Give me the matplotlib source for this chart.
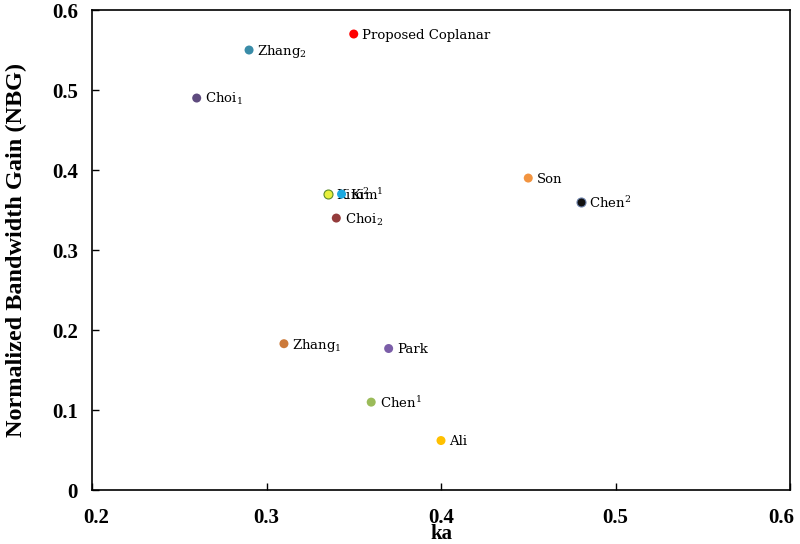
import matplotlib.pyplot as plt
import matplotlib.transforms as mtransforms

# data
names = ['Proposed Coplanar', r'Zhang$_2$', r'Choi$_1$', r'Kim$^2$', r'Kim$^1$',
         r'Choi$_2$', 'Son', r'Chen$^2$', r'Zhang$_1$', 'Park', r'Chen$^1$', 'Ali']
ka = [0.35, 0.29, 0.26, 0.335, 0.343, 0.34, 0.45, 0.48, 0.31, 0.37, 0.36, 0.40]
nbg = [0.57, 0.55, 0.49, 0.37, 0.37, 0.34, 0.39, 0.36, 0.183, 0.177, 0.11, 0.062]
colors = ['#ff0000', '#3a8ca8', '#5e4b7e', '#e8ef3c', '#1ba9e0', '#943c3c',
          '#f29440', '#111111', '#cc7a3a', '#7b5ea8', '#9bbb59', '#ffc000']
edges = ['none', 'none', 'none', '#5a8a2a', 'none', 'none',
         'none', '#6a7fa8', 'none', 'none', 'none', 'none']
xticks = [0.2, 0.3, 0.4, 0.5, 0.6]
yticks = [0, 0.1, 0.2, 0.3, 0.4, 0.5, 0.6]

plt.rcParams['font.family'] = ['Liberation Serif', 'DejaVu Serif']
plt.rcParams['mathtext.fontset'] = 'dejavuserif'

fig = plt.figure(figsize=(8, 5.44), dpi=100)
ax = fig.add_axes([0.115, 0.099, 0.8725, 0.8826])

for x, y, c, e, n in zip(ka, nbg, colors, edges, names):
    ax.scatter(x, y, s=42, color=c, edgecolors=e, linewidths=0.8, zorder=3)
    ax.annotate(n, (x, y), xytext=(6, -1), textcoords='offset points',
                ha='left', va='center', fontsize=9.5, family='DejaVu Serif')

ax.set_xlim(0.2, 0.6)
ax.set_ylim(0, 0.6)
ax.set_xticks(xticks)
ax.set_yticks(yticks)
ax.set_xticklabels([f'{v:g}' for v in xticks], fontweight='bold', fontsize=15)
ax.set_yticklabels([f'{v:g}' for v in yticks], fontweight='bold', fontsize=15)
ax.tick_params(direction='in', length=5, width=1, pad=13)
ax.tick_params(axis='y', pad=10)
for s in ax.spines.values():
    s.set_linewidth(1.2)

# nudge the edge x labels inwards so they stay inside the figure
xlabs = ax.get_xticklabels()
xlabs[0].set_transform(xlabs[0].get_transform() +
                       mtransforms.ScaledTranslation(3 / 72, 0, fig.dpi_scale_trans))
xlabs[-1].set_transform(xlabs[-1].get_transform() +
                        mtransforms.ScaledTranslation(-6 / 72, 0, fig.dpi_scale_trans))

ax.set_xlabel('ka', fontweight='bold', fontsize=15, labelpad=-3)
ax.set_ylabel('Normalized Bandwidth Gain (NBG)', fontweight='bold', fontsize=17.5, labelpad=18)

fig.savefig('out.png', dpi=100)
